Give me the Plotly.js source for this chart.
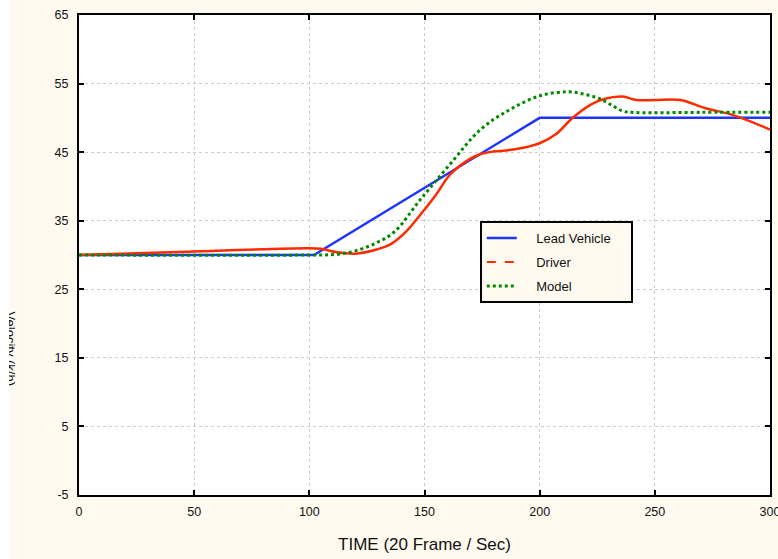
<!DOCTYPE html>
<html>
<head>
<meta charset="utf-8">
<script src="https://cdn.plot.ly/plotly-3.0.1.min.js"></script>
<style>
html,body{margin:0;padding:0;background:#ffffff;overflow:hidden;}
#chart{position:absolute;left:9px;top:0;width:769px;height:559px;}
</style>
</head>
<body>
<div id="chart"></div>
<script>
// Lead vehicle velocity
const leadT = [0, 102, 200, 300];
const leadV = [30, 30, 50, 50];

// Driver velocity
const driverT = [0, 50, 100, 105, 112, 120, 128, 135, 142, 148, 155, 161, 167, 172, 178, 187, 195, 200, 207, 214, 222, 228, 236, 242, 250, 261, 272, 284, 300];
const driverV = [30, 30.5, 31, 30.9, 30.4, 30.2, 30.7, 31.5, 33.4, 35.8, 38.8, 41.7, 43.4, 44.4, 45, 45.3, 45.8, 46.3, 47.6, 49.9, 51.9, 52.75, 53.1, 52.6, 52.6, 52.6, 51.4, 50.4, 48.3];

// Model velocity
const modelT = [0, 100, 112, 120, 129, 137, 148, 161, 174, 187, 200, 212, 220, 226, 231, 236, 240, 270, 300];
const modelV = [30, 30, 30.1, 30.6, 31.75, 33.4, 38, 43.2, 48.2, 51.2, 53.2, 53.8, 53.4, 52.8, 51.9, 51, 50.8, 50.8, 50.8];

const xTicks = [0, 50, 100, 150, 200, 250, 300];
const yTicks = [-5, 5, 15, 25, 35, 45, 55, 65];

const seriesNames = ['Lead Vehicle', 'Driver', 'Model'];
const pad = s => '\u00a0\u00a0\u00a0\u00a0' + s + '\u00a0\u00a0\u00a0\u00a0';

const FONT = 'Arial, Liberation Sans, sans-serif';

const traces = [
  {x: leadT, y: leadV, name: pad(seriesNames[0]), mode: 'lines', legendgroup: 'a',
   line: {color: '#1f35ff', width: 2.5}},
  {x: driverT, y: driverV, name: pad(seriesNames[1]), mode: 'lines', showlegend: false, legendgroup: 'b',
   line: {color: '#ff2a00', width: 2.5, shape: 'spline'}},
  {x: [null], y: [null], name: pad(seriesNames[1]), mode: 'lines', legendgroup: 'b',
   line: {color: '#ff2a00', width: 2, dash: 'dash'}},
  {x: modelT, y: modelV, name: pad(seriesNames[2]), mode: 'lines', legendgroup: 'c',
   line: {color: '#008a00', width: 3, dash: 'dot', shape: 'spline'}}
];

const axisCommon = {
  showline: true, linecolor: '#000', linewidth: 2, mirror: 'ticks',
  ticks: 'inside', ticklen: 5, tickwidth: 2, tickcolor: '#000',
  showgrid: true, gridcolor: '#cccccc', griddash: '3px,3px', gridwidth: 1,
  zeroline: false, ticklabeloverflow: 'allow',
  tickfont: {family: FONT, size: 12.5, color: '#111'}
};

const layout = {
  width: 769, height: 559,
  margin: {l: 70, r: 8, t: 15, b: 64},
  paper_bgcolor: '#fffaf0', plot_bgcolor: '#ffffff',
  showlegend: true,
  xaxis: Object.assign({}, axisCommon, {
    range: [0, 300], tickvals: xTicks, ticktext: xTicks.map(String),
    ticklabelstandoff: 4,
    title: {text: 'TIME (20 Frame / Sec)', standoff: 20,
            font: {family: FONT, size: 17, color: '#111'}}
  }),
  yaxis: Object.assign({}, axisCommon, {
    range: [-5, 65], tickvals: yTicks, ticktext: yTicks.map(String),
    ticklabelstandoff: 6
  }),
  legend: {
    x: 0.58, y: 0.5705, xanchor: 'left', yanchor: 'top',
    bgcolor: '#fffaf0', bordercolor: '#000', borderwidth: 2,
    traceorder: 'grouped', tracegroupgap: 4,
    font: {family: FONT, size: 13, color: '#111'}
  },
  annotations: [{
    text: 'Velocity (k/h)', textangle: 90, showarrow: false,
    xref: 'paper', yref: 'paper', x: 0, y: 0.305, xanchor: 'center', yanchor: 'middle',
    xshift: -69,
    font: {family: FONT, size: 13, color: '#111'}
  }]
};

Plotly.newPlot('chart', traces, layout, {displayModeBar: false, staticPlot: true});
</script>
</body>
</html>
